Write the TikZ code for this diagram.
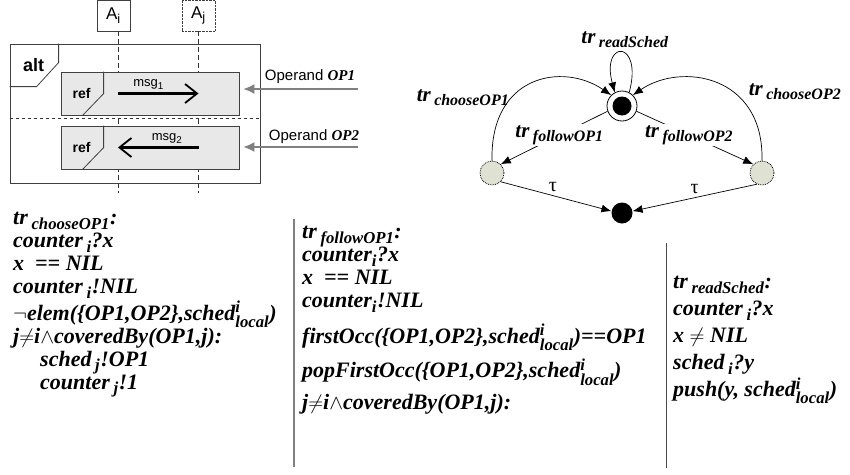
\documentclass[tikz,border=0pt]{standalone}
\usepackage{amsmath}
\usepackage{fontspec}
\setmainfont{Liberation Serif}
\setsansfont{Liberation Sans}
\usetikzlibrary{calc,arrows.meta}
\renewcommand{\defaultscriptratio}{.76}
\definecolor{sgray}{HTML}{E8E8E8}
\definecolor{sgreen}{HTML}{DFE1D2}
\definecolor{sline}{HTML}{808080}
\newcommand{\lo}[1]{$_{\text{#1}}$}
\newcommand{\loc}{$^{\text{i}}_{\text{local}}$}

\begin{document}
\begin{tikzpicture}[x=1pt, y=1pt,
    HDR/.style={draw=black!75, minimum width=33, minimum height=31, inner sep=0, font=\sffamily\fontsize{17}{17}\selectfont},
    LIFE/.style={black!80, dash pattern=on 5pt off 3pt, line width=0.8pt},
    REF/.style={draw=black!75, fill=sgray, line width=0.8pt, minimum width=178, minimum height=43},
    MSG/.style={line width=2.2pt, -{Straight Barb[length=12pt, width=19pt, line width=1.8pt]}},
    MLAB/.style={font=\sffamily\fontsize{13}{13}\selectfont, inner sep=1pt},
    OPL/.style={font=\sffamily\fontsize{15}{15}\selectfont, inner sep=0},
    OPA/.style={sline, line width=1.3pt, -{Latex[length=11pt, width=10pt]}, shorten >=4pt},
    ST/.style={circle, draw, line width=0.8pt, inner sep=0},
    TR/.style={font=\rmfamily\bfseries\itshape\fontsize{21}{21}\selectfont, inner sep=1pt},
    TAU/.style={font=\rmfamily\fontsize{20}{20}\selectfont, inner sep=1pt},
    BLK/.style={anchor=north west, align=left, inner sep=0, font=\rmfamily\bfseries\itshape\fontsize{22}{23}\selectfont},
    >={Latex[length=10pt, width=8pt]}
    ]
    \useasboundingbox (0,0) rectangle (850,-474);

    % sequence part
    \node[HDR] (Ai) at (113.5,-15.5) {A\textsubscript{i}};
    \node[HDR, densely dotted] (Aj) at (198.5,-15.5) {A\textsubscript{j}};
    \coordinate (Li0) at (118,-31);
    \coordinate (Li1) at (118,-193);
    \coordinate (Lj1) at ($(Aj.south)+(0,-162)$);
    \draw[LIFE] (Li0) -- (Li1);
    \draw[LIFE] (Aj.south) -- (Lj1);

    \node[draw=black!75, line width=0.8pt, minimum width=250, minimum height=139] (ALT) at (135,-113.5) {};
    \draw[black!75, line width=0.8pt] ($(ALT.north west)+(49,0)$) -- ++(0,-19) -- ++(-22,-24) -- ($(ALT.north west)+(0,-43)$);
    \node[font=\sffamily\bfseries\fontsize{18}{18}\selectfont] (altl) at ($(ALT.north west)+(24,-21)$) {alt};
    \draw[black!80, dashed, line width=0.8pt] (ALT.west) ++(0,-5) -- ($(ALT.east)+(0,-5)$);

    \node[REF] (R1) at (150,-93.5) {};
    \draw[black!75, line width=0.8pt] ($(R1.north west)+(43,0)$) -- ++(0,-22) -- ($(R1.south west)+(22,0)$);
    \node[font=\sffamily\bfseries\fontsize{14}{14}\selectfont] (refa) at ($(R1.west)+(21,0)$) {ref};
    \draw[MSG] (Li0 |- R1) -- (Aj.south |- R1) node[MLAB, pos=0.38, above=2pt] (m1) {msg\textsubscript{1}};

    \node[REF] (R2) at (150,-147.5) {};
    \draw[black!75, line width=0.8pt] ($(R2.north west)+(43,0)$) -- ++(0,-22) -- ($(R2.south west)+(22,0)$);
    \node[font=\sffamily\bfseries\fontsize{14}{14}\selectfont] (refb) at ($(R2.west)+(21,0)$) {ref};
    \draw[MSG] (Aj.south |- R2) -- (Li0 |- R2) node[MLAB, pos=0.39, above=2pt] (m2) {msg\textsubscript{2}};

    \node[OPL] (OPL1) at (310,-77) {Operand {\rmfamily\bfseries\itshape OP1}};
    \coordinate (O1) at (358,-89);
    \draw[OPA] (O1) -- (R1.east |- O1);
    \node[OPL] (OPL2) at (314,-137) {Operand {\rmfamily\bfseries\itshape OP2}};
    \coordinate (O2) at (358,-147);
    \draw[OPA] (O2) -- (R2.east |- O2);

    % state part
    \node[ST, minimum size=30] (S0) at (622,-106) {};
    \node[circle, fill=black, minimum size=19, inner sep=0] (S0i) at (S0) {};
    \node[ST, densely dotted, fill=sgreen, minimum size=24] (SL) at (492,-173) {};
    \node[ST, densely dotted, fill=sgreen, minimum size=24] (SR) at (762,-173) {};
    \node[circle, fill=black, minimum size=21, inner sep=0] (SE) at (622,-213) {};

    \draw[->, line width=0.7pt] (S0.62) .. controls +(75:55) and +(105:55) .. (S0.118);
    \node[TR] (trR) at (625,-40) {tr\,\lo{readSched}};
    \draw[->, line width=0.7pt] (SL.north) .. controls +(-2,86) and +(-48,33) .. (S0.135);
    \node[TR] (trC1) at (463,-98) {tr\,\lo{chooseOP1}};
    \draw[->, line width=0.7pt] (SR.north) .. controls +(2,86) and +(48,33) .. (S0.45);
    \node[TR] (trC2) at (795,-92) {tr\,\lo{chooseOP2}};
    \draw[->, line width=0.7pt] (S0.200) -- (SL.45) node[TR, pos=0.45, fill=white] (trF1) {tr\,\lo{followOP1}};
    \draw[->, line width=0.7pt] (S0.-20) -- (SR.135) node[TR, pos=0.45, fill=white] (trF2) {tr\,\lo{followOP2}};
    \draw[->, line width=0.7pt] (SL.-45) -- (SE.170) node[TAU, pos=0.47, above=3pt] (t1) {τ};
    \draw[->, line width=0.7pt] (SR.-115) -- (SE.10) node[TAU, pos=0.5, above=3pt] (t2) {τ};

    % transition texts
    \node[BLK] (B1) at (13,-212) {tr\,\lo{chooseOP1}:\\
        counter\,\lo{i}?x\\
        x\ \ == NIL\\
        counter\,\lo{i}!NIL\\[2pt]
        $\neg$elem(\{OP1,OP2\},sched\loc)\\
        j$\neq$i$\wedge$coveredBy(OP1,j):\\
        \hspace*{27pt}sched\,\lo{j}!OP1\\
        \hspace*{27pt}counter\,\lo{j}!1};
    \coordinate (V1a) at (294,-219);
    \coordinate (V1b) at (294,-467);
    \draw[sline, line width=1.3pt] (V1a) -- (V1b);
    \node[BLK] (B2) at (302,-226) {tr\,\lo{followOP1}:\\
        counter\lo{i}?x\\
        x\ \ == NIL\\
        counter\lo{i}!NIL\\[11pt]
        firstOcc(\{OP1,OP2\},sched\loc)==OP1\\[7pt]
        popFirstOcc(\{OP1,OP2\},sched\loc)\\[9pt]
        j$\neq$i$\wedge$coveredBy(OP1,j):};
    \coordinate (V2a) at (666,-243);
    \coordinate (V2b) at (666,-468);
    \draw[black!70, line width=1pt] (V2a) -- (V2b);
    \node[BLK, font=\rmfamily\bfseries\itshape\fontsize{22}{27}\selectfont] (B3) at (673,-276) {tr\,\lo{readSched}:\\
        counter\,\lo{i}?x\\
        x $\neq$ NIL\\
        sched\,\lo{i}?y\\
        push(y, sched\loc)};
\end{tikzpicture}
\end{document}
